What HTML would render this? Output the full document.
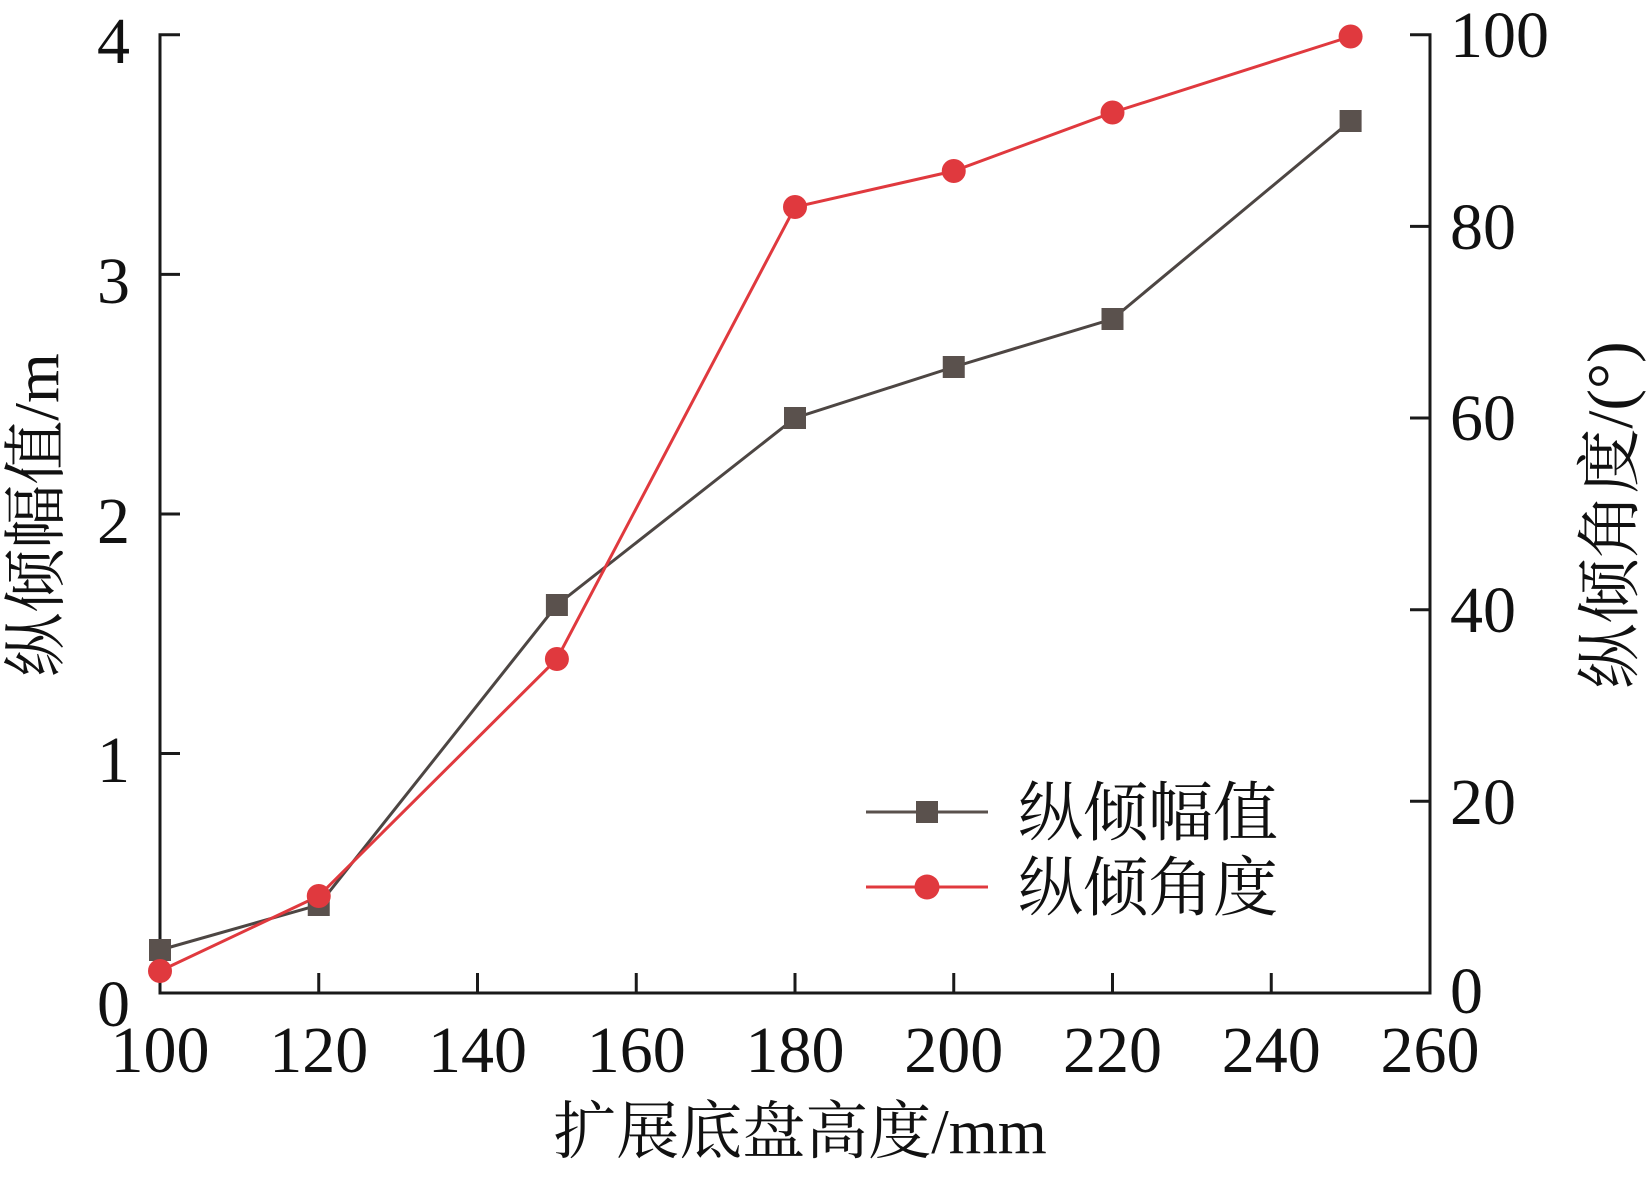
<!DOCTYPE html>
<html><head><meta charset="utf-8"><style>
html,body{margin:0;padding:0;background:#fff;}
svg text{font-family:"Liberation Serif","Noto Serif CJK SC",serif;fill:#111;}
</style></head><body>
<svg width="1649" height="1173" viewBox="0 0 1649 1173" xmlns="http://www.w3.org/2000/svg">
<g stroke="#1a1a1a" stroke-width="3" fill="none">
<path d="M180,34.7 H160 V993 H1430 V34.7 H1410"/>
<path d="M160,274.4 h20 M160,514 h20 M160,753.5 h20"/>
<path d="M1430,226.4 h-20 M1430,418 h-20 M1430,609.7 h-20 M1430,801.3 h-20"/>
<path d="M318.75,993 v-20 M477.5,993 v-20 M636.25,993 v-20 M795,993 v-20 M953.75,993 v-20 M1112.5,993 v-20 M1271.25,993 v-20 M1430,993 v-20"/>
</g>
<g font-size="66" text-anchor="end">
<text x="130" y="63">4</text><text x="130" y="303">3</text><text x="130" y="543">2</text><text x="130" y="782">1</text><text x="130" y="1026">0</text>
</g>
<g font-size="66" text-anchor="start">
<text x="1450" y="57">100</text><text x="1450" y="249">80</text><text x="1450" y="440">60</text><text x="1450" y="632">40</text><text x="1450" y="824">20</text><text x="1450" y="1013">0</text>
</g>
<g font-size="66" text-anchor="middle">
<text x="160" y="1072">100</text><text x="318.75" y="1072">120</text><text x="477.5" y="1072">140</text><text x="636.25" y="1072">160</text><text x="795" y="1072">180</text><text x="953.75" y="1072">200</text><text x="1112.5" y="1072">220</text><text x="1271.25" y="1072">240</text><text x="1430" y="1072">260</text>
</g>
<text x="800" y="1153" font-size="63" text-anchor="middle">扩展底盘高度/mm</text>
<text transform="translate(58,515) rotate(-90)" font-size="64" text-anchor="middle">纵倾幅值/m</text>
<text transform="translate(1632,515) rotate(-90)" font-size="65" text-anchor="middle">纵倾角度/(°)</text>
<polyline fill="none" stroke="#4d4643" stroke-width="3" points="160,950 318.75,905 556.9,605 795,418 953.75,367 1112.5,319 1350.6,121"/>
<polyline fill="none" stroke="#e0393e" stroke-width="3" points="160,971 318.75,896 556.9,659 795,207 953.75,171 1112.5,112.5 1350.6,36.5"/>
<g fill="#5a514d">
<rect x="149" y="939" width="22" height="22"/><rect x="307.75" y="894" width="22" height="22"/><rect x="545.9" y="594" width="22" height="22"/><rect x="784" y="407" width="22" height="22"/><rect x="942.75" y="356" width="22" height="22"/><rect x="1101.5" y="308" width="22" height="22"/><rect x="1339.6" y="110" width="22" height="22"/>
</g>
<g fill="#e0393e">
<circle cx="160" cy="971" r="12"/><circle cx="318.75" cy="896" r="12"/><circle cx="556.9" cy="659" r="12"/><circle cx="795" cy="207" r="12"/><circle cx="953.75" cy="171" r="12"/><circle cx="1112.5" cy="112.5" r="12"/><circle cx="1350.6" cy="36.5" r="12"/>
</g>
<line x1="866" y1="812" x2="988" y2="812" stroke="#5a514d" stroke-width="3"/>
<rect x="916" y="801" width="22" height="22" fill="#5a514d"/>
<line x1="866" y1="887" x2="988" y2="887" stroke="#e0393e" stroke-width="3"/>
<circle cx="927" cy="887" r="12.5" fill="#e0393e"/>
<text x="1018" y="835" font-size="65">纵倾幅值</text>
<text x="1018" y="910" font-size="65">纵倾角度</text>
</svg>
</body></html>
